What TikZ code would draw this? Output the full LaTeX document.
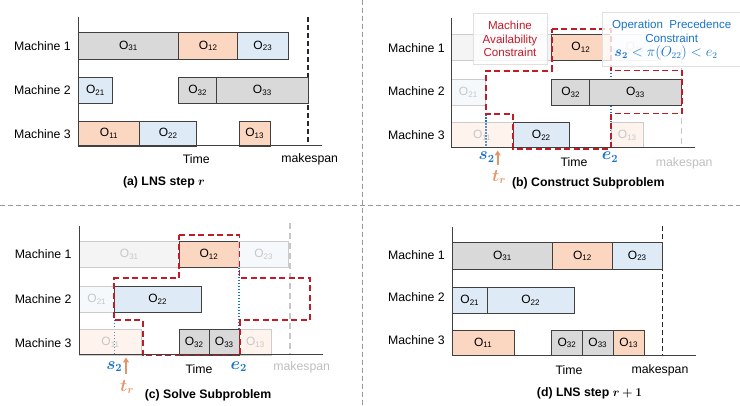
\documentclass[tikz,border=0pt]{standalone}
\usepackage{amsmath,bm}
\usepackage{fontspec}
\setmainfont{Liberation Sans}
\usetikzlibrary{arrows.meta}
\definecolor{gcol}{RGB}{217,217,217}
\definecolor{ocol}{RGB}{251,215,194}
\definecolor{bcol}{RGB}{222,235,246}
\definecolor{redc}{RGB}{192,28,40}
\definecolor{bluec}{RGB}{25,115,200}
\definecolor{orc}{RGB}{228,150,105}
\definecolor{edgec}{RGB}{64,64,64}
\newcommand\Op[1]{O\textsubscript{#1}}
\newcommand\jobbox[7]{\node[jobstyle,#6,minimum width={(#4-#2)*1pt},minimum height={(#5-#3)*1pt}] (#1) at ({(#2+#4)/2},{(#3+#5)/2}) {#7};}
\tikzset{
  jobstyle/.style={draw=edgec,line width=0.9pt,inner sep=0pt,outer sep=0pt,font=\fontsize{12}{14}\selectfont},
  gj/.style={fill=gcol},
  oj/.style={fill=ocol},
  bj/.style={fill=bcol},
  fade/.style={fill opacity=0.3,draw=black!20,text=black!22,text opacity=1},
  axisline/.style={draw=edgec,line width=1pt},
  mlabel/.style={anchor=east,inner sep=0pt,font=\fontsize{12.3}{14}\selectfont},
  plain/.style={inner sep=0pt,font=\fontsize{12.3}{14}\selectfont},
  mathlbl/.style={inner sep=0pt,font=\fontsize{16}{18}\selectfont},
  ttl/.style={inner sep=0pt,font=\fontsize{12.3}{14}\selectfont\bfseries},
  mkline/.style={draw=black!85,line width=1.5pt,dash pattern=on 5pt off 3pt},
  mkfade/.style={draw=black!22,line width=1.3pt,dash pattern=on 6pt off 4pt},
  region/.style={draw=redc,line width=1.7pt,dash pattern=on 6pt off 3.5pt},
  blued/.style={draw=bluec,line width=1.6pt,dash pattern=on 1.5pt off 1.5pt},
  tarrow/.style={draw=orc,line width=1.8pt,-{Triangle[length=5pt,width=6pt]}},
  sep/.style={draw=black!40,line width=0.8pt,dash pattern=on 5pt off 3pt},
  lblbox/.style={draw=black!12,fill=white,fill opacity=0.8,inner sep=0pt},
}
\begin{document}
\begin{tikzpicture}[x=1pt,y=-1pt]
\useasboundingbox (0,0) rectangle (740,406);
% separators
\draw[sep] (362,0) -- (362,406);
\draw[sep] (0,205) -- (740,205);

% ================= (a)
\draw[mkline] (308,17) -- (308,146);
\jobbox{a31}{78.3}{32.7}{178.7}{59}{gj}{\Op{31}}
\jobbox{a12}{178.7}{32.7}{237.7}{59}{oj}{\Op{12}}
\jobbox{a23}{237.7}{32.7}{288}{59}{bj}{\Op{23}}
\jobbox{a21}{78.3}{77.7}{112.7}{103.3}{bj}{\Op{21}}
\jobbox{a32}{178.7}{77.7}{216.7}{103.3}{gj}{\Op{32}}
\jobbox{a33}{216.7}{77.7}{308}{103.3}{gj}{\Op{33}}
\jobbox{a11}{78.3}{121}{139.7}{146}{oj}{\Op{11}}
\jobbox{a22}{139.7}{121}{196.7}{146}{bj}{\Op{22}}
\jobbox{a13}{239.3}{121}{270}{146}{oj}{\Op{13}}
\coordinate (ao) at (78.3,146);
\draw[axisline] (78.3,17) -- (ao) -- (321.7,146);
\node[mlabel] (am1) at (71,46) {Machine 1};
\node[mlabel] (am2) at (71,90.5) {Machine 2};
\node[mlabel] (am3) at (71,134) {Machine 3};
\node[plain] (atime) at (196.3,159.5) {Time};
\node[plain] (amk) at (309.7,159.5) {makespan};
\node[ttl] (atitle) at (164,182) {(a) LNS step $\bm{r}$};

% ================= (b)
\draw[mkfade] (681.3,18) -- (681.3,147.7);
\draw[blued] (485.7,114.3) -- (485.7,147.7);
\draw[blued] (611,70) -- (611,147.7);
\jobbox{b31}{451}{34}{551.7}{60.7}{gj,fade}{\Op{31}}
\jobbox{b12}{551.7}{34}{610}{60.7}{oj}{\Op{12}}
\jobbox{b23}{610}{34}{660}{60.7}{bj,fade}{\Op{23}}
\jobbox{b21}{451}{79}{485.7}{105.3}{bj,fade}{\Op{21}}
\jobbox{b32}{551.7}{79}{589.7}{105.3}{gj}{\Op{32}}
\jobbox{b33}{589.7}{79}{681.3}{105.3}{gj}{\Op{33}}
\jobbox{b11}{451}{122.7}{513.3}{147.7}{oj,fade}{\Op{11}}
\jobbox{b22}{513.3}{122.7}{569.3}{147.7}{bj}{\Op{22}}
\jobbox{b13}{611.3}{122.7}{643.3}{147.7}{oj,fade}{\Op{13}}
\draw[region] (551.7,29) -- (610.7,29) -- (610.7,70.5) -- (681.7,70.5) -- (681.7,113.5) -- (611.3,113.5) -- (611.3,148.7) -- (513.3,148.7) -- (513.3,114.3) -- (485.7,114.3) -- (485.7,70.7) -- (551.7,70.7) -- cycle;
\coordinate (bo) at (451,147.7);
\draw[axisline] (451,18) -- (bo) -- (695,147.7);
\node[lblbox,minimum width=73.7pt,minimum height=50.7pt] (bmacbox) at (509.85,38.65) {};
\node[lblbox,minimum width=140pt,minimum height=54pt] (bopcbox) at (672,39) {};
\node[plain,text=redc,align=center,font=\fontsize{11.6}{13.8}\selectfont] (bmac) at (510,39) {Machine\\Availability\\Constraint};
\node[plain,text=bluec,align=center,font=\fontsize{11.6}{13.8}\selectfont] (bopc) at (671.7,31) {Operation~~Precedence\\Constraint};
\node[plain,text=bluec,font=\fontsize{13.5}{15}\selectfont] (bineq) at (666,53) {$\bm{s_2} < \pi(O_{22}) < e_2$};
\node[mlabel] (bm1) at (445,47.7) {Machine 1};
\node[mlabel] (bm2) at (445,90.7) {Machine 2};
\node[mlabel] (bm3) at (445,135) {Machine 3};
\node[mathlbl,text=bluec] (bs2) at (486.7,157) {$\bm{s_2}$};
\node[mathlbl,text=bluec] (be2) at (610,157) {$\bm{e_2}$};
\coordinate (btr0) at (497.7,165);
\coordinate (btr1) at (497.7,150.5);
\draw[tarrow] (btr0) -- (btr1);
\node[mathlbl,text=orc] (btr) at (499,177) {$\bm{t_r}$};
\node[plain] (btime) at (574,162) {Time};
\node[plain,text=black!25] (bmk) at (684.2,163) {makespan};
\node[ttl] (btitle) at (588.3,183.3) {(b) Construct Subproblem};

% ================= (c)
\draw[mkfade] (290,223) -- (290,355);
\draw[blued] (114.3,320) -- (114.3,355);
\draw[blued] (238.7,268) -- (238.7,355);
\jobbox{c31}{79.3}{241.7}{179.3}{267.3}{gj,fade}{\Op{31}}
\jobbox{c12}{179.3}{241.7}{238.7}{267.3}{oj}{\Op{12}}
\jobbox{c23}{238.7}{241.7}{288.7}{267.3}{bj,fade}{\Op{23}}
\jobbox{c21}{79.3}{286}{114.3}{312.3}{bj,fade}{\Op{21}}
\jobbox{c22}{114.3}{286}{201}{312.3}{bj}{\Op{22}}
\jobbox{c11}{79.3}{329.3}{141.7}{355}{oj,fade}{\Op{11}}
\jobbox{c13}{239.3}{329.3}{271.7}{355}{oj,fade}{\Op{13}}
\jobbox{c32}{179}{329.3}{209.3}{355}{gj}{\Op{32}}
\jobbox{c33}{209.3}{329.3}{239.3}{355}{gj}{\Op{33}}
\draw[region] (179.3,235.3) -- (239.5,235.3) -- (239.5,277.7) -- (310,277.7) -- (310,320) -- (240,320) -- (240,355.5) -- (142.7,355.5) -- (142.7,320) -- (114.3,320) -- (114.3,278.3) -- (179.3,278.3) -- cycle;
\coordinate (co) at (79.3,355);
\draw[axisline] (79.3,226) -- (co) -- (322.7,355);
\node[mlabel] (cm1) at (71.7,254.5) {Machine 1};
\node[mlabel] (cm2) at (71.7,299) {Machine 2};
\node[mlabel] (cm3) at (71.7,342.7) {Machine 3};
\node[mathlbl,text=bluec] (cs2) at (114.3,366.7) {$\bm{s_2}$};
\node[mathlbl,text=bluec] (ce2) at (238.7,366.7) {$\bm{e_2}$};
\coordinate (ctr0) at (126,374);
\coordinate (ctr1) at (126,357.5);
\draw[tarrow] (ctr0) -- (ctr1);
\node[mathlbl,text=orc] (ctr) at (127,387) {$\bm{t_r}$};
\node[plain] (ctime) at (199,369) {Time};
\node[plain,text=black!25] (cmk) at (301.7,367.7) {makespan};
\node[ttl] (ctitle) at (208,395) {(c) Solve Subproblem};

% ================= (d)
\draw[mkline] (662.3,226) -- (662.3,355.7);
\jobbox{d31}{452.3}{242.7}{552.7}{269}{gj}{\Op{31}}
\jobbox{d12}{552.7}{242.7}{612.3}{269}{oj}{\Op{12}}
\jobbox{d23}{612.3}{242.7}{662.3}{269}{bj}{\Op{23}}
\jobbox{d21}{452.3}{287.7}{487.3}{313.3}{bj}{\Op{21}}
\jobbox{d22}{487.3}{287.7}{574}{313.3}{bj}{\Op{22}}
\jobbox{d11}{452.3}{330}{514}{355.7}{oj}{\Op{11}}
\jobbox{d32}{551.7}{330}{582.3}{355.7}{gj}{\Op{32}}
\jobbox{d33}{582.3}{330}{613.3}{355.7}{gj}{\Op{33}}
\jobbox{d13}{613.3}{330}{644}{355.7}{oj}{\Op{13}}
\coordinate (do) at (452.3,355.7);
\draw[axisline] (452.3,226.7) -- (do) -- (696,355.7);
\node[mlabel] (dm1) at (445,255) {Machine 1};
\node[mlabel] (dm2) at (445,297.3) {Machine 2};
\node[mlabel] (dm3) at (445,340) {Machine 3};
\node[plain] (dtime) at (569,370) {Time};
\node[plain] (dmk) at (660,370) {makespan};
\node[ttl] (dtitle) at (589.5,393.3) {(d) LNS step $\bm{r+1}$};
\end{tikzpicture}
\end{document}
